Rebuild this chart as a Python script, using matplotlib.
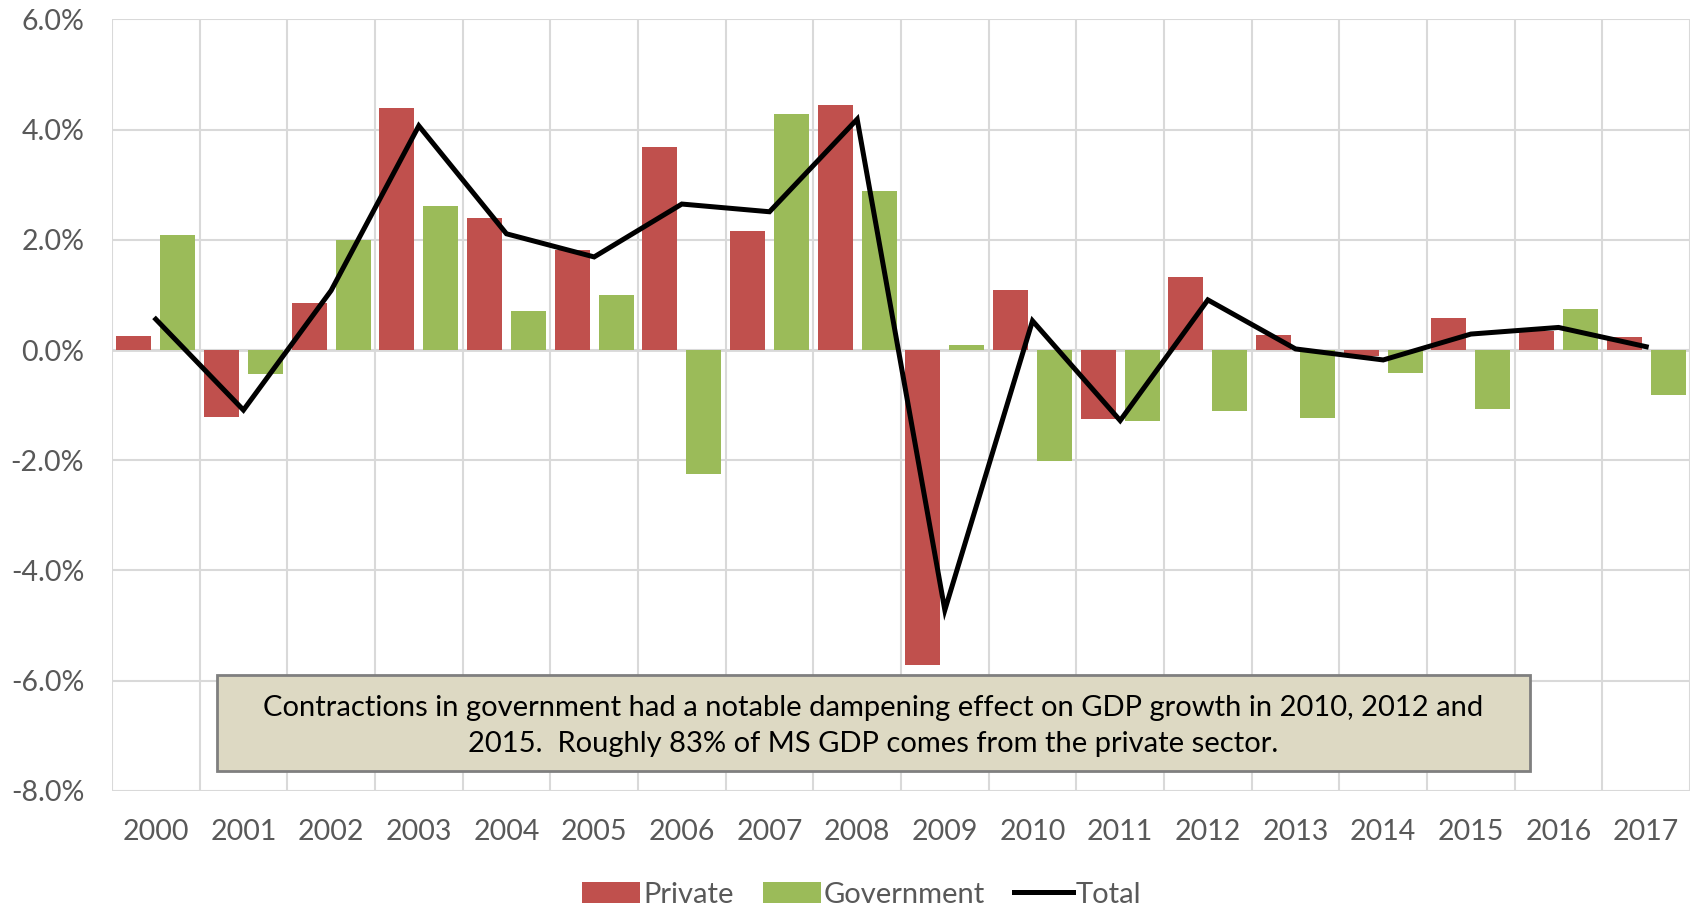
import matplotlib.pyplot as plt
import numpy as np
from matplotlib.patches import Patch, Rectangle
from matplotlib.lines import Line2D
from matplotlib.ticker import FuncFormatter

plt.rcParams['font.family'] = ['Lato', 'DejaVu Sans']

years = [str(y) for y in range(2000, 2018)]
# contribution to GDP growth, percent
private = [0.26, -1.21, 0.86, 4.39, 2.40, 1.82, 3.69, 2.16, 4.44,
           -5.71, 1.09, -1.25, 1.33, 0.27, -0.11, 0.58, 0.35, 0.24]
government = [2.09, -0.43, 1.99, 2.61, 0.70, 0.99, -2.25, 4.28, 2.88,
              0.09, -2.01, -1.29, -1.10, -1.24, -0.41, -1.07, 0.74, -0.82]
total = [0.56, -1.09, 1.08, 4.07, 2.11, 1.69, 2.65, 2.51, 4.19,
         -4.72, 0.53, -1.28, 0.91, 0.02, -0.18, 0.29, 0.41, 0.06]

note = ("Contractions in government had a notable dampening effect on GDP growth in 2010, 2012 and\n"
        "2015.  Roughly 83% of MS GDP comes from the private sector.")

red = '#C0504D'
green = '#9BBB59'
grid_c = '#D9D9D9'
txt_c = '#595959'

fig = plt.figure(figsize=(16.96, 9.11), dpi=100)
ax = fig.add_axes([0.066, 0.132, 0.9305, 0.8466])

x = np.arange(len(years))
ax.bar(x - 0.25, private, width=0.4, color=red, zorder=2)
ax.bar(x + 0.25, government, width=0.4, color=green, zorder=2)
ax.plot(x, total, color='black', lw=3.6, zorder=3, solid_joinstyle='miter')

ax.set_xlim(-0.5, len(years) - 0.5)
ax.set_ylim(-8, 6)
ax.set_yticks(np.arange(-8, 7, 2))
ax.yaxis.set_major_formatter(FuncFormatter(lambda v, p: f'{v:.1f}%'))
ax.set_xticks(x)
ax.set_xticklabels(years)
ax.set_xticks(np.arange(-0.5, len(years), 1), minor=True)

ax.grid(axis='y', which='major', color=grid_c, lw=1.5, zorder=0)
ax.grid(axis='x', which='minor', color=grid_c, lw=1.5, zorder=0)
ax.axhline(0, color=grid_c, lw=2, zorder=1)
for s in ax.spines.values():
    s.set_visible(False)
ax.tick_params(axis='both', which='both', length=0, labelsize=20.5, colors=txt_c)
ax.tick_params(axis='x', pad=20)
ax.tick_params(axis='y', pad=20)

# annotation box
ax.add_patch(Rectangle((0.0665, 0.0254), 0.8321, 0.1245, transform=ax.transAxes,
                       facecolor='#DDD9C3', edgecolor='#7F7F7F', lw=2, zorder=5))
ax.text(0.4826, 0.084, note, transform=ax.transAxes, ha='center', va='center',
        multialignment='center', fontsize=21, color='black', linespacing=1.45, zorder=6)

handles = [Patch(facecolor=red, label='Private'),
           Patch(facecolor=green, label='Government'),
           Line2D([0], [0], color='black', lw=3.6, label='Total')]
leg = fig.legend(handles=handles, loc='center', bbox_to_anchor=(0.508, 0.018), ncol=3,
                 frameon=False, fontsize=21, handlelength=2.0, handletextpad=0.1,
                 columnspacing=1.0)
for t in leg.get_texts():
    t.set_color(txt_c)

fig.savefig('out.png', dpi=100)
